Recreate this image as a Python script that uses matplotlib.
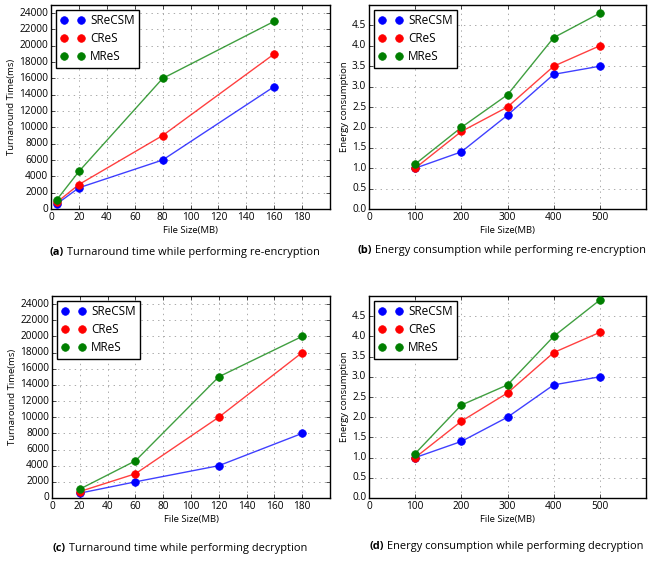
import matplotlib
matplotlib.use("Agg")
import matplotlib.pyplot as plt
from matplotlib.lines import Line2D

plt.style.use('classic')
plt.rcParams['font.family'] = ['Open Sans', 'DejaVu Sans']
plt.rcParams['figure.facecolor'] = 'white'
plt.rcParams['savefig.facecolor'] = 'white'

# data
series = ['SReCSM', 'CReS', 'MReS']
colors = ['#0000ff', '#ff0000', '#007f00']

x_a = [4, 20, 80, 160]
a_srecsm = [600, 2600, 6000, 15000]
a_cres = [800, 3000, 9000, 19000]
a_mres = [1100, 4600, 16000, 23000]

x_b = [100, 200, 300, 400, 500]
b_srecsm = [1.0, 1.4, 2.3, 3.3, 3.5]
b_cres = [1.0, 1.9, 2.5, 3.5, 4.0]
b_mres = [1.1, 2.0, 2.8, 4.2, 4.8]

x_c = [20, 60, 120, 180]
c_srecsm = [600, 2000, 4000, 8000]
c_cres = [800, 3000, 10000, 18000]
c_mres = [1100, 4600, 15000, 20000]

x_d = [100, 200, 300, 400, 500]
d_srecsm = [1.0, 1.4, 2.0, 2.8, 3.0]
d_cres = [1.0, 1.9, 2.6, 3.6, 4.1]
d_mres = [1.1, 2.3, 2.8, 4.0, 4.9]

captions = ['Turnaround time while performing re-encryption',
            'Energy consumption while performing re-encryption',
            'Turnaround time while performing decryption',
            'Energy consumption while performing decryption']

W, H = 648, 561
fig = plt.figure(figsize=(6.48, 5.61), dpi=100)


def px_axes(l, t, r, b):
    return fig.add_axes([l / W, 1 - b / H, (r - l) / W, (b - t) / H])


def draw(ax, x, ys, kind):
    for y, c in zip(ys, colors):
        ax.plot(x, y, color=c, lw=1.0, alpha=0.75, zorder=2)
        ax.plot(x, y, ls='none', marker='o', ms=5.5, mfc=c, mec=c,
                mew=0.5, zorder=3)
    ax.grid(True, color='#aaaaaa', linestyle=':', linewidth=0.7)
    ax.set_axisbelow(True)
    ax.tick_params(labelsize=7.3, direction='in', length=3, pad=2)
    if kind == 'time':
        ax.set_xlim(0, 200)
        ax.set_ylim(0, 25000)
        ax.set_xticks(range(0, 181, 20))
        ax.set_yticks(range(0, 24001, 2000))
        ax.set_ylabel('Turnaround Time(ms)', fontsize=6.8, labelpad=2)
    else:
        ax.set_xlim(0, 600)
        ax.set_ylim(0, 5)
        ax.set_xticks(range(0, 501, 100))
        ax.set_yticks([i * 0.5 for i in range(10)])
        ax.set_ylabel('Energy consumption', fontsize=6.8, labelpad=2)
    ax.set_xlabel('File Size(MB)', fontsize=6.8, labelpad=2)
    handles = [Line2D([], [], ls='none', marker='o', ms=5.5, color=c, mec=c)
               for c in colors]
    ax.legend(handles, series, loc='upper left', numpoints=2, fontsize=8.5,
              frameon=True, fancybox=False, edgecolor='black',
              borderpad=0.4, labelspacing=0.4, handlelength=2.0,
              handletextpad=0.5, borderaxespad=0.4)


ax_a = px_axes(51, 5, 330, 209)
draw(ax_a, x_a, [a_srecsm, a_cres, a_mres], 'time')
ax_b = px_axes(369, 5, 646, 209)
draw(ax_b, x_b, [b_srecsm, b_cres, b_mres], 'energy')
ax_c = px_axes(52, 296, 330, 498)
draw(ax_c, x_c, [c_srecsm, c_cres, c_mres], 'time')
ax_d = px_axes(369, 296, 646, 498)
draw(ax_d, x_d, [d_srecsm, d_cres, d_mres], 'energy')

# captions: bold letter followed by regular text, centred as a whole
renderer = fig.canvas.get_renderer()
cap_pos = [(185, 253), (504, 251), (180, 548), (506, 547)]
for (cx, cy), letter, cap in zip(cap_pos, 'abcd', captions):
    t1 = fig.text(0, 1 - cy / H, '(' + letter + ')', fontsize=7.9,
                  fontweight='bold', ha='left', va='center')
    t2 = fig.text(0, 1 - cy / H, ' ' + cap, fontsize=7.9,
                  ha='left', va='center')
    w1 = t1.get_window_extent(renderer).width
    w2 = t2.get_window_extent(renderer).width
    x0 = min(cx - (w1 + w2) / 2, W - 2 - (w1 + w2))
    t1.set_x(x0 / W)
    t2.set_x((x0 + w1) / W)

fig.savefig('out.png', dpi=100)
